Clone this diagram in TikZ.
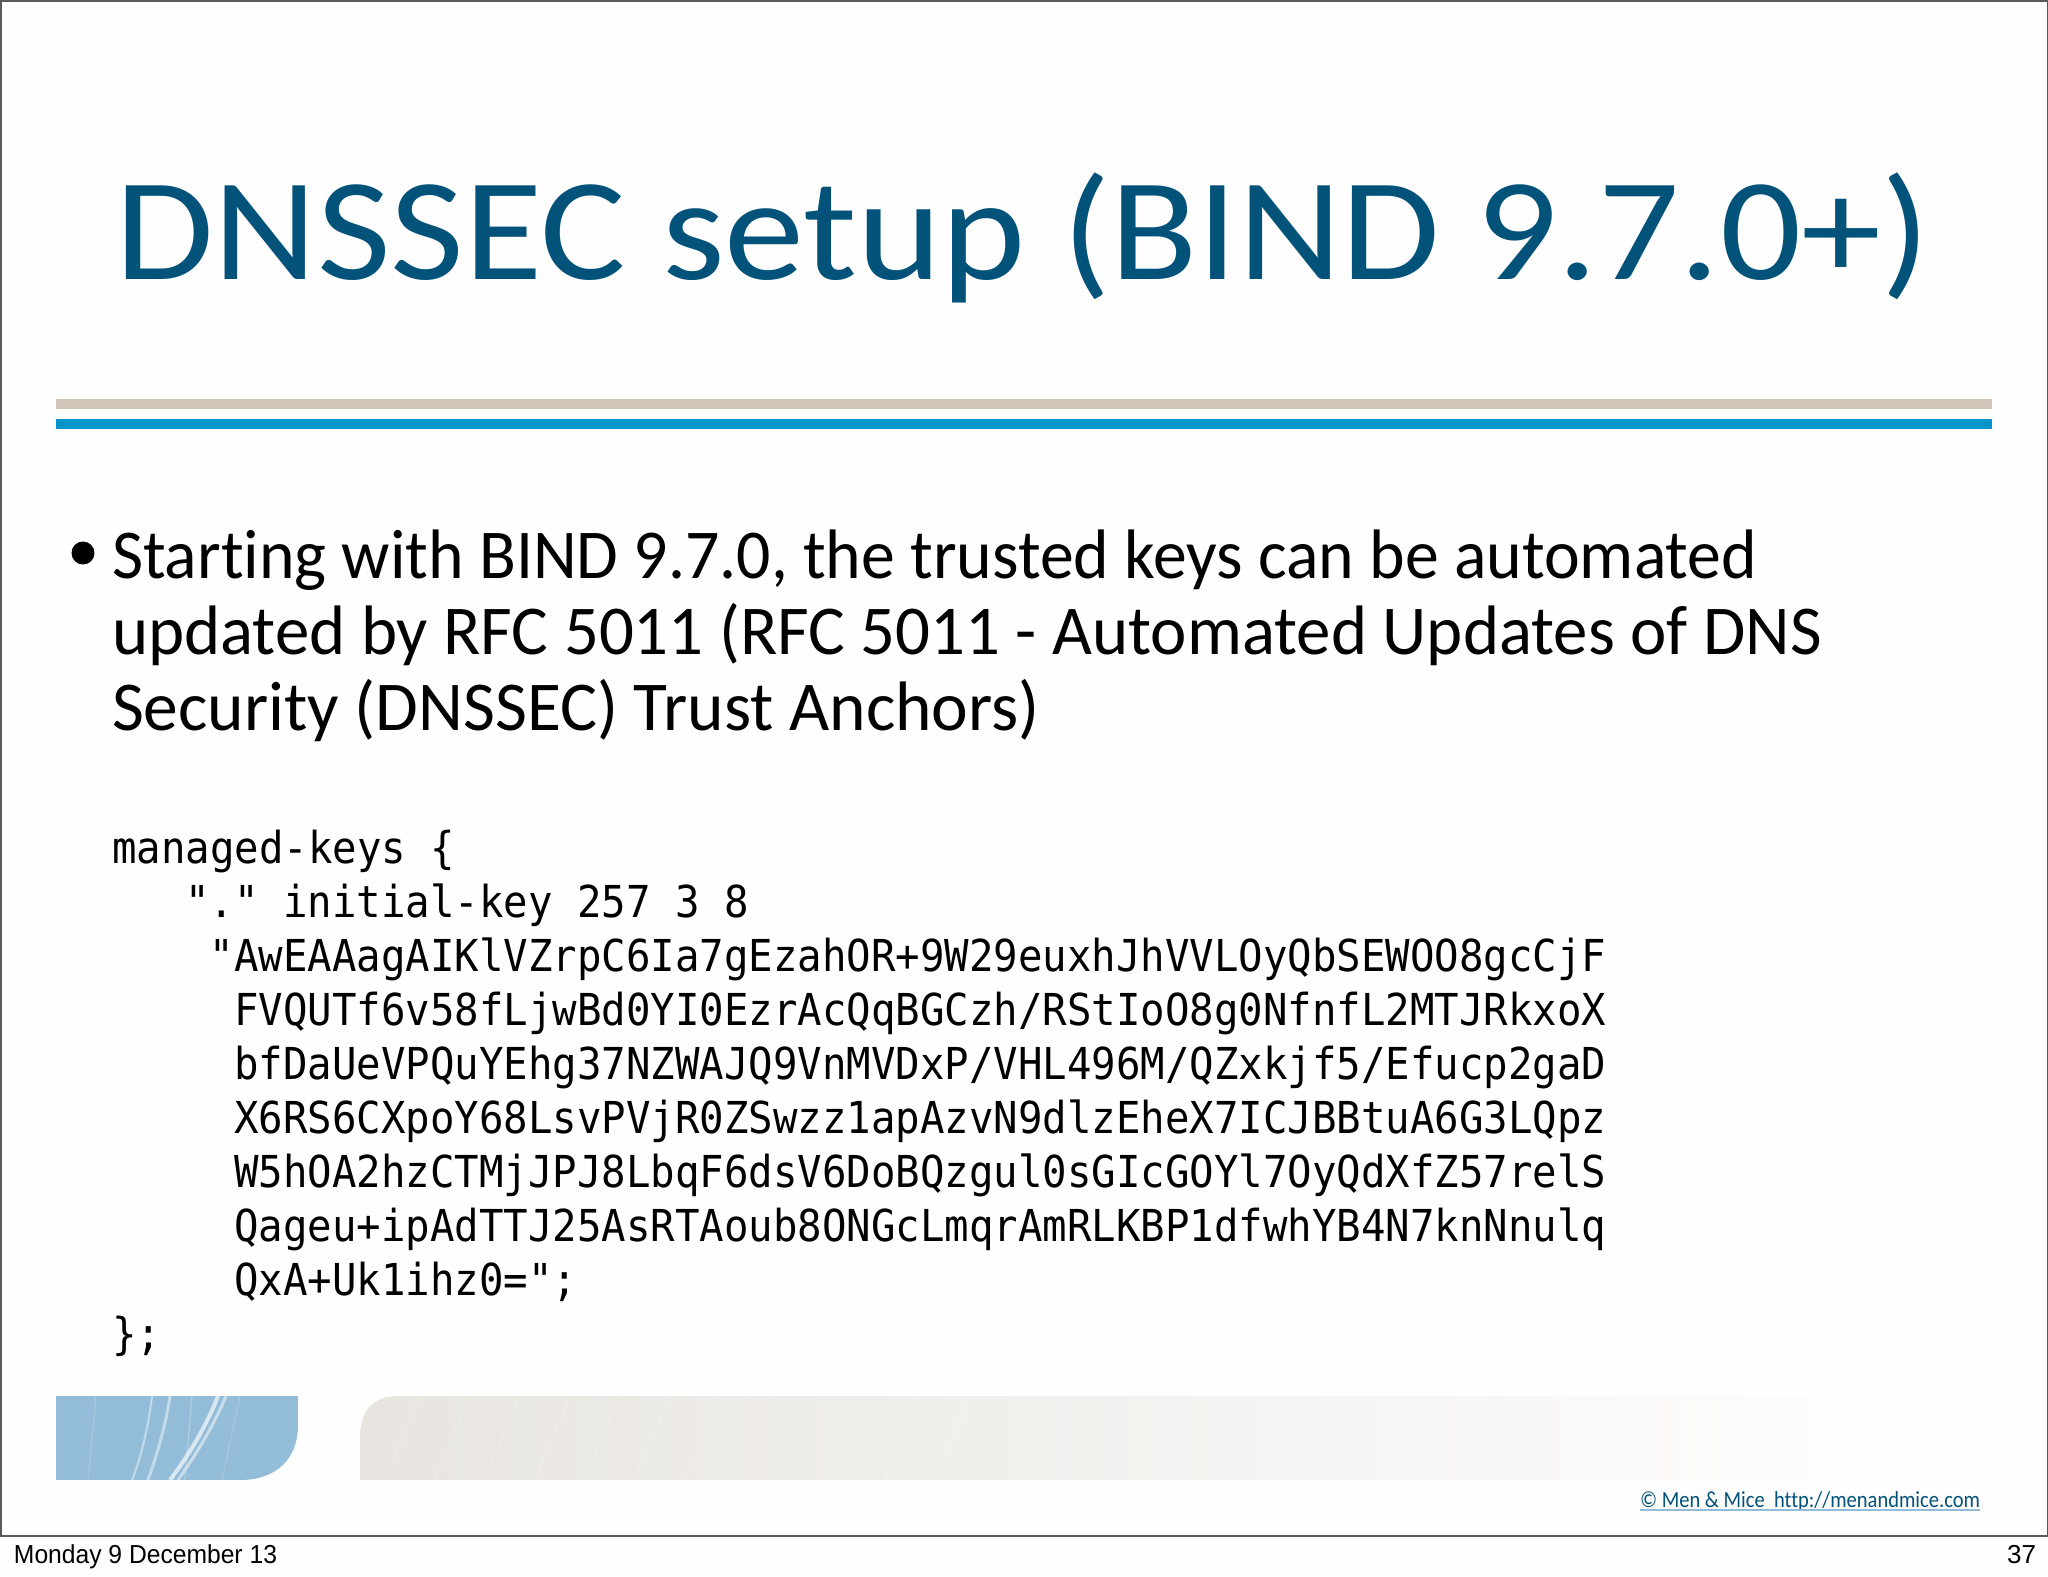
\documentclass[tikz,border=0pt]{standalone}
\usepackage{fontspec}
\usepackage{graphicx}
\setmainfont[Ligatures=NoCommon]{Carlito}
\newfontfamily\codefont[FakeStretch=0.925,Ligatures=NoCommon]{DejaVu Sans Mono}
\newfontfamily\helv{Liberation Sans}
\definecolor{titleblue}{HTML}{03527A}
\definecolor{rulegray}{HTML}{D0C7B9}
\definecolor{ruleblue}{HTML}{0694CB}
\definecolor{boxblue}{HTML}{93BCD8}
\definecolor{bandgray}{HTML}{E8E5E0}
\definecolor{framegray}{HTML}{5A5A5A}
\definecolor{paper}{HTML}{FEFEFE}
\tikzset{
  px/.style={x=0.5pt,y=-0.5pt},
  base/.style={anchor=base west,inner sep=0pt,outer sep=0pt},
  titletext/.style={base,text=titleblue,font=\fontsize{73pt}{73pt}\selectfont},
  bodytext/.style={base,text=black,font=\fontsize{35pt}{35pt}\selectfont},
  codetext/.style={base,text=black,font=\codefont\fontsize{22pt}{22pt}\selectfont},
  foot/.style={base,text=black,font=\helv\fontsize{13pt}{13pt}\selectfont},
}
\begin{document}
\begin{tikzpicture}[px]
\useasboundingbox (0,0) rectangle (2048,1576);
\fill[paper] (0,0) rectangle (2048,1576);
% slide frame
\draw[framegray,line width=1pt] (0.5,0.5) -- (2047.5,0.5) -- (2047.5,1535.5) -- (0.5,1535.5) -- cycle;
% title and rules
\node[titletext] (title) at (115,279) {\resizebox{907.5pt}{\height}{DNSSEC setup (BIND 9.7.0+)}};
\fill[rulegray] (56,399) rectangle (1992,409);
\fill[ruleblue] (56,419) rectangle (1992,429);
% bullet text
\fill[black] (83,553) circle (11.5);
\node[bodytext] (l1) at (112,578) {\resizebox{822.5pt}{\height}{Starting with BIND 9.7.0, the trusted keys can be automated}};
\node[bodytext] (l2) at (112,654) {\resizebox{855pt}{\height}{updated by RFC 5011 (RFC 5011 - Automated Updates of DNS}};
\node[bodytext] (l3) at (112,730) {\resizebox{464pt}{\height}{Security (DNSSEC) Trust Anchors)}};
% code
\node[codetext] (c1) at (112,863) {managed-keys \{};
\node[codetext] (c2) at (185.4,917) {"."\ initial-key 257 3 8};
\node[codetext] (c3) at (209.8,971) {"AwEAAagAIKlVZrpC6Ia7gEzahOR+9W29euxhJhVVLOyQbSEWOO8gcCjF};
\node[codetext] (c4) at (234.3,1025) {FVQUTf6v58fLjwBd0YI0EzrAcQqBGCzh/RStIoO8g0NfnfL2MTJRkxoX};
\node[codetext] (c5) at (234.3,1079) {bfDaUeVPQuYEhg37NZWAJQ9VnMVDxP/VHL496M/QZxkjf5/Efucp2gaD};
\node[codetext] (c6) at (234.3,1133) {X6RS6CXpoY68LsvPVjR0ZSwzz1apAzvN9dlzEheX7ICJBBtuA6G3LQpz};
\node[codetext] (c7) at (234.3,1187) {W5hOA2hzCTMjJPJ8LbqF6dsV6DoBQzgul0sGIcGOYl7OyQdXfZ57relS};
\node[codetext] (c8) at (234.3,1241) {Qageu+ipAdTTJ25AsRTAoub8ONGcLmqrAmRLKBP1dfwhYB4N7knNnulq};
\node[codetext] (c9) at (234.3,1295) {QxA+Uk1ihz0=";};
\node[codetext] (c10) at (112,1349) {\};};
% decorative blue box
\begin{scope}
\clip (56,1396) -- (298,1396) -- (298,1425) .. controls (298,1460) and (275,1480) .. (240,1480) -- (56,1480) -- cycle;
\fill[boxblue] (56,1396) rectangle (298,1480);
\draw[white,opacity=.45,line width=1pt] (152,1396) .. controls (148,1430) and (140,1460) .. (132,1480);
\draw[white,opacity=.45,line width=1.5pt] (170,1396) .. controls (165,1430) and (155,1460) .. (148,1480);
\draw[white,opacity=.65,line width=2pt] (218,1396) .. controls (205,1430) and (185,1460) .. (170,1480);
\draw[white,opacity=.5,line width=1.5pt] (226,1396) .. controls (212,1430) and (192,1460) .. (178,1480);
\draw[white,opacity=.25,line width=.7pt] (192,1396) -- (185,1480);
\draw[white,opacity=.15,line width=.7pt] (96,1396) -- (88,1480);
\draw[white,opacity=.15,line width=.7pt] (240,1396) -- (222,1480);
\end{scope}
% decorative fading band
\begin{scope}
\clip (360,1480) -- (360,1440) .. controls (360,1410) and (372,1396) .. (400,1396) -- (2000,1396) -- (2000,1480) -- cycle;
\shade[left color=bandgray,right color=paper] (360,1396) rectangle (1900,1480);
\foreach \sx in {420,470,...,1000}
  \draw[white,opacity=.18,line width=.7pt] (\sx,1396) -- ++(-36,84);
\end{scope}
% copyright
\node[base,text=titleblue,font=\fontsize{11.5pt}{11.5pt}\selectfont] (copy) at (1640,1507) {\resizebox{170pt}{\height}{© Men \& Mice\ \ http://menandmice.com}};
\draw[boxblue,line width=1pt] (copy.base west) ++(0,3) -- ++(340,0);
% footer
\node[foot] (date) at (14,1563) {\resizebox{131.5pt}{\height}{Monday 9 December 13}};
\node[foot,anchor=base east] (page) at (2036,1563) {37};
\end{tikzpicture}
\end{document}
